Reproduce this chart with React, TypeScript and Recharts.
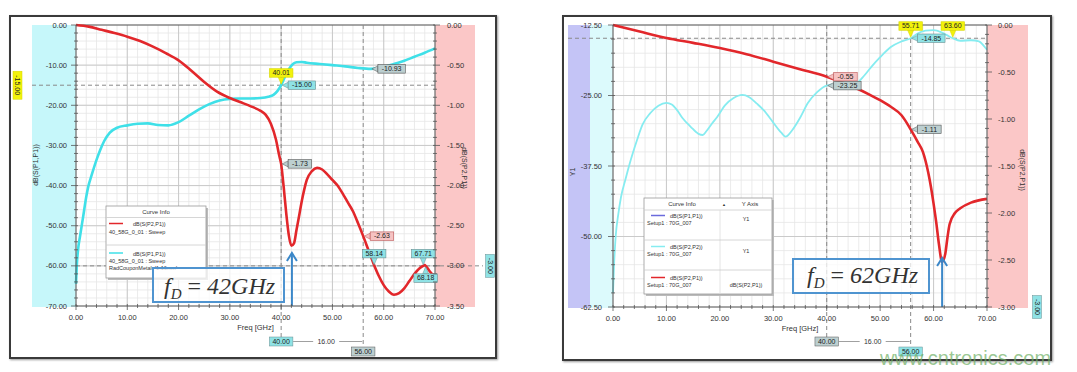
import React from "react";
import {
  LineChart,
  Line,
  XAxis,
  YAxis,
  CartesianGrid,
  ReferenceLine,
  ReferenceDot,
} from "recharts";

const range = (from: number, to: number, step: number) =>
  Array.from({ length: Math.round((to - from) / step) + 1 }, (_, i) =>
    Number((from + i * step).toFixed(3))
  );

// ---------- axes ----------
const freqTicks = range(0, 70, 2);
const freqMajor = [10, 20, 30, 40, 50, 60];

const leftDbTicks = range(-70, 0, 2);
const leftDbMajor = [-10, -20, -30, -40, -50, -60];
const leftS21Ticks = range(-3.5, 0, 0.1);

const rightY1Ticks = range(-62.5, -12.5, 2.5);
const rightY1Major = [-25, -37.5, -50];
const rightS21Ticks = range(-3, 0, 0.1);

// ---------- left plot (fD = 42 GHz) ----------
// dB(S(P1,P1)) on left axis
const leftS11: [number, number][] = [
  [0, -64.5], [0.15, -60], [0.4, -56], [0.8, -52.5], [1.4, -47.7], [2, -42.8],
  [2.4, -40.2], [3, -37.6], [4, -33.6], [4.7, -31.2], [5.5, -28.9], [6.6, -26.8],
  [8, -25.6], [10, -25], [12, -24.6], [14, -24.5], [16, -24.9], [18, -25],
  [20, -24.2], [22, -22.6], [24, -21], [26, -19.7], [28, -18.8], [30, -18.4],
  [32, -18.3], [34, -18.3], [36, -18.2], [37.5, -17.9], [38.5, -17.4], [39.3, -16.4],
  [40, -15], [40.7, -13], [41.5, -11], [42.3, -9.7], [43, -9.3], [44, -9.2],
  [45, -9.4], [47.5, -9.7], [50, -10], [52.5, -10.3], [55, -10.7], [57.5, -10.93],
  [60, -10.5], [62, -9.7], [64, -8.9], [66, -7.9], [68, -6.9], [70, -5.8],
];
// dB(S(P2,P1)) on right axis
const leftS21: [number, number][] = [
  [0, 0], [2.5, -0.02], [5, -0.06], [7.5, -0.1], [10, -0.145], [12.5, -0.2],
  [15, -0.27], [17.5, -0.35], [20, -0.44], [22.5, -0.57], [25, -0.71], [27.5, -0.83],
  [30, -0.91], [32, -0.96], [34, -1.01], [36, -1.07], [37, -1.12], [38, -1.23],
  [39, -1.43], [39.6, -1.62], [40, -1.73], [40.5, -2.02], [41, -2.35], [41.5, -2.62],
  [42, -2.75], [42.5, -2.72], [43, -2.55], [43.5, -2.38], [44, -2.2], [44.5, -2.05],
  [45, -1.93], [46, -1.82], [47, -1.78], [48, -1.8], [49, -1.86], [50, -1.93],
  [51, -2.0], [52, -2.1], [53, -2.21], [54, -2.32], [55, -2.47], [56, -2.63],
  [57, -2.8], [58, -2.97], [59, -3.12], [60, -3.24], [61, -3.32], [62, -3.36],
  [63, -3.34], [64, -3.28], [65, -3.19], [66, -3.1], [67, -3.03], [67.71, -3.0],
  [68, -2.99], [68.18, -3.0], [69, -3.07], [70, -3.14],
];
const leftMarkers = [
  { f: 40.01, v: -15, axis: "L", label: "40.01" },
  { f: 40.01, v: -15, axis: "L", label: "-15.00" },
  { f: 57.5, v: -10.93, axis: "L", label: "-10.93" },
  { f: 40, v: -1.73, axis: "R", label: "-1.73" },
  { f: 56, v: -2.63, axis: "R", label: "-2.63" },
  { f: 58.14, v: -3, axis: "R", label: "58.14" },
  { f: 67.71, v: -3, axis: "R", label: "67.71" },
  { f: 68.18, v: -3, axis: "R", label: "68.18" },
];
const leftMarkerLook = [
  ["above", "yellow"], ["right", "cyan"], ["right", "grey"], ["right", "grey"],
  ["right", "pink"], ["above", "cyan"], ["above", "cyan"], ["below", "cyan"],
];

// ---------- right plot (fD = 62 GHz) ----------
// dB(S(P2,P2)) on Y1
const rightS22: [number, number][] = [
  [0, -60], [0.2, -55], [0.5, -50], [1, -46], [1.5, -43], [2.3, -40], [3, -37.5],
  [4.5, -32.9], [5.5, -30.2], [7, -28.1], [8.5, -26.8], [10, -26.3], [11, -26.6],
  [12, -27.6], [13, -29], [14.5, -30.5], [16, -31.8], [16.8, -32], [17.5, -31.3],
  [18.5, -30], [19.5, -28.8], [21, -26.7], [22.5, -25.5], [24.2, -24.9], [25.5, -25.3],
  [27, -26.5], [28.2, -27.6], [30, -29.8], [31.5, -31.6], [32.3, -32.3], [33.5, -31.2],
  [35.1, -28.8], [36.5, -26.3], [38.2, -24.4], [40, -23.25], [42, -23.0], [44, -23.0],
  [45.7, -22.7], [47, -21.5], [48.2, -20.1], [50, -18.2], [52, -16.4], [54, -15.4],
  [55.71, -14.85], [57, -14.0], [58.5, -13.5], [60, -13.4], [61.5, -13.8], [62.5, -14.3],
  [63.6, -14.85], [65, -15.3], [67, -15.2], [68.5, -15.4], [69.4, -16.2], [70, -16.9],
];
// dB(S(P2,P1)) on right axis
const rightS21: [number, number][] = [
  [0, 0], [5, -0.07], [10, -0.138], [15, -0.19], [20, -0.245], [25, -0.31],
  [30, -0.39], [35, -0.47], [40, -0.55], [45, -0.66], [48, -0.74], [50, -0.8],
  [52, -0.87], [54, -0.96], [55.71, -1.11], [57, -1.24], [58, -1.35], [59, -1.57],
  [59.5, -1.72], [60, -1.9], [60.5, -2.1], [61, -2.33], [61.6, -2.52], [62.2, -2.43],
  [62.6, -2.26], [63, -2.12], [64, -2.0], [65, -1.95], [67, -1.89], [70, -1.85],
];
const rightMarkers = [
  { f: 55.71, v: -14.85, axis: "L", label: "55.71" },
  { f: 63.6, v: -14.85, axis: "L", label: "63.60" },
  { f: 55.71, v: -14.85, axis: "L", label: "-14.85" },
  { f: 40, v: -0.55, axis: "R", label: "-0.55" },
  { f: 40, v: -23.25, axis: "L", label: "-23.25" },
  { f: 55.71, v: -1.11, axis: "R", label: "-1.11" },
];
const rightMarkerLook = [
  ["above", "yellow"], ["above", "yellow"], ["right", "cyan"],
  ["right", "pink"], ["right", "grey"], ["right", "grey"],
];

const pts = (arr: [number, number][]) => arr.map(([f, v]) => ({ f, v }));

const FONT = "'Liberation Sans', Arial, sans-serif";
const RED = "#e2272b";
const CYAN = "#3fe0e8";
const CYAN2 = "#86ecf0";
const GRID_MINOR = "#e6e6e6";
const GRID_MAJOR = "#c6c6c6";
const AXIS = "#555";
const DASH = { stroke: "#8a8a8a", strokeWidth: 1, strokeDasharray: "4 3" };

const LOOK: Record<string, { fill: string; stroke: string }> = {
  yellow: { fill: "#f2f20c", stroke: "#d6d600" },
  cyan: { fill: "#8fe2e5", stroke: "#6a9092" },
  grey: { fill: "#bccfd0", stroke: "#555" },
  pink: { fill: "#f6c2c2", stroke: "#b55" },
};

const near = (v: number, step: number) =>
  Math.abs(v / step - Math.round(v / step)) < 1e-6;

const BottomTick = (p: any) => {
  const { x, y, payload } = p;
  const major = near(payload.value, 10);
  return (
    <g>
      <line x1={x} x2={x} y1={y - 2} y2={y + (major ? 4 : 2)} stroke={AXIS} strokeWidth={0.8} />
      {major && (
        <text x={x} y={y + 14} textAnchor="middle" fontSize={7.5} fill="#333" fontFamily={FONT}>
          {payload.value.toFixed(2)}
        </text>
      )}
    </g>
  );
};

const LeftTick = (p: any) => {
  const { x, y, payload, step, gap } = p;
  const major = near(payload.value, step);
  return (
    <g>
      <line x1={major ? x - 5 : x - 2} x2={x + 2} y1={y} y2={y} stroke={AXIS} strokeWidth={0.8} />
      {major && (
        <text x={x - gap} y={y + 2.5} textAnchor="end" fontSize={7.5} fill="#333" fontFamily={FONT}>
          {payload.value.toFixed(2)}
        </text>
      )}
    </g>
  );
};

const RightTick = (p: any) => {
  const { x, y, payload, step, gap } = p;
  const major = near(payload.value, step);
  return (
    <g>
      <line x1={x - 2} x2={major ? x + 5 : x + 2} y1={y} y2={y} stroke={AXIS} strokeWidth={0.8} />
      {major && (
        <text x={x + gap} y={y + 2.5} textAnchor="start" fontSize={7.5} fill="#333" fontFamily={FONT}>
          {payload.value.toFixed(2)}
        </text>
      )}
    </g>
  );
};

function Tag({ cx, cy, text, place, look }: any) {
  const c = LOOK[look];
  const w = text.length * 3.9 + 4;
  const h = 8.5;
  let bx: number, by: number, tri: string;
  if (place === "above") {
    bx = cx - w / 2;
    by = cy - 8 - h;
    tri = `${cx - 3},${by + h} ${cx + 3},${by + h} ${cx},${cy - 1}`;
  } else if (place === "below") {
    bx = cx - w / 2;
    by = cy + 8;
    tri = `${cx - 3},${by} ${cx + 3},${by} ${cx},${cy + 1}`;
  } else {
    bx = cx + 7;
    by = cy - h / 2;
    tri = `${bx},${cy - 3} ${bx},${cy + 3} ${cx + 1},${cy}`;
  }
  return (
    <g>
      <polygon points={tri} fill={c.fill} stroke={c.stroke} strokeWidth={0.5} />
      <rect x={bx} y={by} width={w} height={h} fill={c.fill} stroke={c.stroke} strokeWidth={0.6} />
      <text x={bx + w / 2} y={by + h - 2} textAnchor="middle" fontSize={7} fill="#222" fontFamily={FONT}>
        {text}
      </text>
    </g>
  );
}

function BoxText({ x, y, text, look }: any) {
  const c = LOOK[look];
  const w = text.length * 3.9 + 4;
  return (
    <g>
      <rect x={x - w / 2} y={y} width={w} height={9} fill={c.fill} stroke={c.stroke} strokeWidth={0.5} />
      <text x={x} y={y + 7} textAnchor="middle" fontSize={7} fill="#222" fontFamily={FONT}>
        {text}
      </text>
    </g>
  );
}

function VTag({ x, y, text, look, h }: any) {
  const c = LOOK[look];
  return (
    <g>
      <rect x={x - 4.5} y={y - h / 2} width={9} height={h} fill={c.fill} stroke={c.stroke} strokeWidth={0.5} />
      <text
        x={x}
        y={y}
        transform={`rotate(90, ${x}, ${y})`}
        textAnchor="middle"
        dominantBaseline="central"
        fontSize={7}
        fill="#222"
        fontFamily={FONT}
      >
        {text}
      </text>
    </g>
  );
}

// vertical dashed marker line that runs below the plot
const vLineExt = (extra: number) => (p: any) => {
  const top = Math.min(p.y1, p.y2);
  const bot = Math.max(p.y1, p.y2);
  return <line x1={p.x1} x2={p.x1} y1={top} y2={bot + extra} {...DASH} />;
};

// delta readout below the axis: "a ---- d ---- b"
const deltaShape = (a: string, b: string, d: string, lookA: string, lookB: string, gapA: number, gapB: number) => (p: any) => {
  const xa = Math.min(p.x1, p.x2);
  const xb = Math.max(p.x1, p.x2);
  const y = p.y1;
  const cy = y + gapA + 4.5;
  const mid = (xa + xb) / 2 + 4;
  return (
    <g>
      <line x1={xa + 12} x2={mid - 13} y1={cy} y2={cy} stroke="#888" strokeWidth={0.8} />
      <text x={mid} y={cy + 2.5} textAnchor="middle" fontSize={7} fill="#333" fontFamily={FONT}>
        {d}
      </text>
      <line x1={mid + 13} x2={xb - 1} y1={cy} y2={cy} stroke="#888" strokeWidth={0.8} />
      <BoxText x={xa} y={y + gapA} text={a} look={lookA} />
      <BoxText x={xb} y={y + gapB} text={b} look={lookB} />
    </g>
  );
};

const arrowShape = (p: any) => {
  const top = Math.min(p.y1, p.y2);
  const bot = Math.max(p.y1, p.y2);
  return (
    <g stroke="#3b87c8" strokeWidth={2} fill="none">
      <line x1={p.x1} x2={p.x1} y1={top + 1} y2={bot} />
      <polyline points={`${p.x1 - 5},${top + 8} ${p.x1},${top} ${p.x1 + 5},${top + 8}`} />
    </g>
  );
};

function LeftPlot() {
  return (
    <LineChart width={540} height={372} margin={{ top: 25, right: 0, bottom: 0, left: 0 }}>
      <CartesianGrid yAxisId="L" stroke={GRID_MINOR} strokeWidth={0.8} />
      <XAxis
        dataKey="f"
        type="number"
        domain={[0, 70]}
        ticks={freqTicks}
        interval={0}
        height={66}
        tickSize={0}
        tickMargin={0}
        stroke={AXIS}
        tick={<BottomTick />}
        label={{ value: "Freq [GHz]", position: "insideTop", offset: 19, fontSize: 7.5, fill: "#333", fontFamily: FONT }}
      />
      <YAxis
        yAxisId="L"
        type="number"
        domain={[-70, 0]}
        ticks={leftDbTicks}
        interval={0}
        width={76}
        tickSize={0}
        tickMargin={0}
        stroke={AXIS}
        tick={<LeftTick step={10} gap={9} />}
      />
      <YAxis
        yAxisId="R"
        orientation="right"
        type="number"
        domain={[-3.5, 0]}
        ticks={leftS21Ticks}
        interval={0}
        width={105}
        tickSize={0}
        tickMargin={0}
        stroke={AXIS}
        tick={<RightTick step={0.5} gap={12} />}
      />
      {freqMajor.map((f) => (
        <ReferenceLine key={`gx${f}`} yAxisId="L" x={f} stroke={GRID_MAJOR} strokeWidth={0.9} />
      ))}
      {leftDbMajor.map((v) => (
        <ReferenceLine key={`gy${v}`} yAxisId="L" y={v} stroke={GRID_MAJOR} strokeWidth={0.9} />
      ))}
      <ReferenceLine yAxisId="L" y={0} stroke={AXIS} strokeWidth={1} />
      <ReferenceLine
        yAxisId="L"
        y={-15}
        shape={(p: any) => {
          const xl = Math.min(p.x1, p.x2);
          const xr = Math.max(p.x1, p.x2);
          return (
            <g>
              <line x1={xl - 44} x2={xr} y1={p.y1} y2={p.y1} {...DASH} />
              <VTag x={xl - 58.5} y={p.y1} h={28} text="-15.00" look="yellow" />
            </g>
          );
        }}
      />
      <ReferenceLine
        yAxisId="L"
        y={-60}
        shape={(p: any) => {
          const xl = Math.min(p.x1, p.x2);
          const xr = Math.max(p.x1, p.x2);
          return (
            <g>
              <line x1={xl} x2={xr + 48} y1={p.y1} y2={p.y1} {...DASH} />
              <VTag x={xr + 55} y={p.y1} h={23} text="-3.00" look="cyan" />
            </g>
          );
        }}
      />
      <ReferenceLine yAxisId="L" x={40} shape={vLineExt(31)} />
      <ReferenceLine yAxisId="L" x={56} shape={vLineExt(41)} />
      <ReferenceLine
        yAxisId="L"
        segment={[{ x: 40, y: -70 }, { x: 56, y: -70 }]}
        shape={deltaShape("40.00", "56.00", "16.00", "cyan", "grey", 31, 41)}
      />
      <Line yAxisId="L" data={pts(leftS11)} dataKey="v" type="monotone" stroke={CYAN} strokeWidth={2.6} dot={false} isAnimationActive={false} />
      <Line yAxisId="R" data={pts(leftS21)} dataKey="v" type="monotone" stroke={RED} strokeWidth={2.6} dot={false} isAnimationActive={false} />
      <ReferenceLine yAxisId="L" segment={[{ x: 42.1, y: -70 }, { x: 42.1, y: -56.8 }]} shape={arrowShape} />
      {leftMarkers.map((m, i) => (
        <ReferenceDot
          key={`lm${i}`}
          yAxisId={m.axis}
          x={m.f}
          y={m.v}
          shape={(p: any) => (
            <Tag cx={p.cx} cy={p.cy} text={m.label} place={leftMarkerLook[i][0]} look={leftMarkerLook[i][1]} />
          )}
        />
      ))}
    </LineChart>
  );
}

function RightPlot() {
  return (
    <LineChart width={540} height={372} margin={{ top: 25, right: 0, bottom: 0, left: 0 }}>
      <CartesianGrid yAxisId="L" stroke={GRID_MINOR} strokeWidth={0.8} />
      <XAxis
        dataKey="f"
        type="number"
        domain={[0, 70]}
        ticks={freqTicks}
        interval={0}
        height={65}
        tickSize={0}
        tickMargin={0}
        stroke={AXIS}
        tick={<BottomTick />}
        label={{ value: "Freq [GHz]", position: "insideTop", offset: 19, fontSize: 7.5, fill: "#333", fontFamily: FONT }}
      />
      <YAxis
        yAxisId="L"
        type="number"
        domain={[-62.5, -12.5]}
        ticks={rightY1Ticks}
        interval={0}
        width={76}
        tickSize={0}
        tickMargin={0}
        stroke={AXIS}
        tick={<LeftTick step={12.5} gap={11} />}
      />
      <YAxis
        yAxisId="R"
        orientation="right"
        type="number"
        domain={[-3, 0]}
        ticks={rightS21Ticks}
        interval={0}
        width={90}
        tickSize={0}
        tickMargin={0}
        stroke={AXIS}
        tick={<RightTick step={0.5} gap={11} />}
      />
      {freqMajor.map((f) => (
        <ReferenceLine key={`gx${f}`} yAxisId="L" x={f} stroke={GRID_MAJOR} strokeWidth={0.9} />
      ))}
      {rightY1Major.map((v) => (
        <ReferenceLine key={`gy${v}`} yAxisId="L" y={v} stroke={GRID_MAJOR} strokeWidth={0.9} />
      ))}
      <ReferenceLine yAxisId="L" y={-12.5} stroke={AXIS} strokeWidth={1} />
      <ReferenceLine
        yAxisId="L"
        y={-14.85}
        shape={(p: any) => {
          const xl = Math.min(p.x1, p.x2);
          const xr = Math.max(p.x1, p.x2);
          return <line x1={xl - 45} x2={xr} y1={p.y1} y2={p.y1} {...DASH} />;
        }}
      />
      <ReferenceLine
        yAxisId="R"
        y={-3}
        shape={(p: any) => {
          const xr = Math.max(p.x1, p.x2);
          return <VTag x={xr + 50} y={p.y1} h={23} text="-3.00" look="cyan" />;
        }}
      />
      <ReferenceLine yAxisId="L" x={40} shape={vLineExt(30)} />
      <ReferenceLine yAxisId="L" x={55.71} shape={vLineExt(40)} />
      <ReferenceLine
        yAxisId="L"
        segment={[{ x: 40, y: -62.5 }, { x: 55.71, y: -62.5 }]}
        shape={deltaShape("40.00", "56.00", "16.00", "grey", "cyan", 30, 40)}
      />
      <Line yAxisId="L" data={pts(rightS22)} dataKey="v" type="monotone" stroke={CYAN2} strokeWidth={1.8} dot={false} isAnimationActive={false} />
      <Line yAxisId="R" data={pts(rightS21)} dataKey="v" type="monotone" stroke={RED} strokeWidth={2.6} dot={false} isAnimationActive={false} />
      <ReferenceLine yAxisId="L" segment={[{ x: 61.6, y: -62.5 }, { x: 61.6, y: -53.8 }]} shape={arrowShape} />
      {rightMarkers.map((m, i) => (
        <ReferenceDot
          key={`rm${i}`}
          yAxisId={m.axis}
          x={m.f}
          y={m.v}
          shape={(p: any) => (
            <Tag cx={p.cx} cy={p.cy} text={m.label} place={rightMarkerLook[i][0]} look={rightMarkerLook[i][1]} />
          )}
        />
      ))}
    </LineChart>
  );
}

const txt = { fontFamily: FONT, fill: "#333" };

function Overlay() {
  return (
    <svg width={1077} height={372} style={{ position: "absolute", left: 0, top: 0, pointerEvents: "none" }}>
      {/* axis titles */}
      <text transform="translate(38,165) rotate(-90)" textAnchor="middle" fontSize={7} {...txt}>dB(S(P1,P1))</text>
      <text transform="translate(462,168) rotate(90)" textAnchor="middle" fontSize={7} {...txt}>dB(S(P2,P1))</text>
      <text transform="translate(575,172) rotate(-90)" textAnchor="middle" fontSize={7} {...txt}>Y1</text>
      <text transform="translate(1020,170) rotate(90)" textAnchor="middle" fontSize={7} {...txt}>dB(S(P2,P1))</text>

      {/* left legend */}
      <rect x={108} y={208} width={100} height={72} fill="#bbb" />
      <rect x={106} y={206} width={100} height={72} fill="#fff" stroke="#999" strokeWidth={0.8} />
      <text x={156} y={214} textAnchor="middle" fontSize={6} {...txt}>Curve Info</text>
      <line x1={106} x2={206} y1={217.5} y2={217.5} stroke="#ccc" strokeWidth={0.8} />
      <line x1={109} x2={123} y1={223.5} y2={223.5} stroke={RED} strokeWidth={1.5} />
      <text x={133} y={226} fontSize={5.5} {...txt}>dB(S(P2,P1))</text>
      <text x={109} y={234} fontSize={5.5} {...txt}>40_58G_0_01 : Sweep</text>
      <line x1={106} x2={206} y1={245} y2={245} stroke="#ccc" strokeWidth={0.8} />
      <line x1={109} x2={123} y1={253} y2={253} stroke={CYAN} strokeWidth={1.5} />
      <text x={133} y={255.5} fontSize={5.5} {...txt}>dB(S(P1,P1))</text>
      <text x={109} y={263} fontSize={5.5} {...txt}>40_58G_0_01 : Sweep</text>
      <text x={109} y={270} fontSize={5.5} {...txt}>RadCouponMetal='1.16mm'</text>

      {/* right legend */}
      <rect x={646} y={200} width={128} height={96} fill="#bbb" />
      <rect x={644} y={198} width={128} height={96} fill="#fff" stroke="#999" strokeWidth={0.8} />
      <text x={682} y={206} textAnchor="middle" fontSize={6} {...txt}>Curve Info</text>
      <text x={724} y={206} textAnchor="middle" fontSize={4} {...txt}>▲</text>
      <text x={750} y={206} textAnchor="middle" fontSize={6} {...txt}>Y Axis</text>
      <line x1={644} x2={772} y1={210} y2={210} stroke="#ccc" strokeWidth={0.8} />
      <line x1={720} x2={720} y1={210} y2={294} stroke="#ddd" strokeWidth={0.8} />
      <line x1={651} x2={665} y1={215.5} y2={215.5} stroke="#6b6bdc" strokeWidth={1.5} />
      <text x={670} y={217.5} fontSize={5.5} {...txt}>dB(S(P1,P1))</text>
      <text x={647} y={224.5} fontSize={5.5} {...txt}>Setup1 : 70G_007</text>
      <text x={746} y={221} textAnchor="middle" fontSize={5.5} {...txt}>Y1</text>
      <line x1={644} x2={772} y1={240} y2={240} stroke="#ccc" strokeWidth={0.8} />
      <line x1={651} x2={665} y1={246.5} y2={246.5} stroke={CYAN2} strokeWidth={1.5} />
      <text x={670} y={248.5} fontSize={5.5} {...txt}>dB(S(P2,P2))</text>
      <text x={647} y={256} fontSize={5.5} {...txt}>Setup1 : 70G_007</text>
      <text x={746} y={253} textAnchor="middle" fontSize={5.5} {...txt}>Y1</text>
      <line x1={644} x2={772} y1={270} y2={270} stroke="#ccc" strokeWidth={0.8} />
      <line x1={651} x2={665} y1={277.5} y2={277.5} stroke={RED} strokeWidth={1.5} />
      <text x={670} y={279.5} fontSize={5.5} {...txt}>dB(S(P2,P1))</text>
      <text x={647} y={287} fontSize={5.5} {...txt}>Setup1 : 70G_007</text>
      <text x={746} y={287} textAnchor="middle" fontSize={5.5} {...txt}>dB(S(P2,P1))</text>

      {/* fD callouts */}
      <rect x={153} y={268} width={131} height={34} fill="rgba(255,255,255,0.75)" stroke="#4f94d0" strokeWidth={2} />
      <text x={164} y={294} fontSize={24} fontFamily="'Liberation Serif', 'Times New Roman', serif" fontStyle="italic" fill="#333">
        f<tspan fontSize={15} dy={5}>D</tspan>
        <tspan dy={-5} fontStyle="normal"> = </tspan>42GHz
      </text>
      <rect x={793} y={259} width={136} height={34} fill="rgba(255,255,255,0.75)" stroke="#4f94d0" strokeWidth={2} />
      <text x={807} y={283} fontSize={24} fontFamily="'Liberation Serif', 'Times New Roman', serif" fontStyle="italic" fill="#333">
        f<tspan fontSize={15} dy={5}>D</tspan>
        <tspan dy={-5} fontStyle="normal"> = </tspan>62GHz
      </text>

      <text x={880} y={365} fontSize={20} fontFamily={FONT} fill="rgba(110,175,100,0.7)">www.cntronics.com</text>
    </svg>
  );
}

export default function App() {
  return (
    <div style={{ position: "absolute", left: 0, top: 0, width: 1077, height: 372, background: "#fff", overflow: "hidden" }}>
      {/* axis bands */}
      <div style={{ position: "absolute", left: 32, top: 25, width: 44, height: 282, background: "#c6f7fa" }} />
      <div style={{ position: "absolute", left: 435, top: 25, width: 40, height: 282, background: "#fbc7c7" }} />
      <div style={{ position: "absolute", left: 568, top: 25, width: 22, height: 283, background: "#c4c4f6" }} />
      <div style={{ position: "absolute", left: 590, top: 25, width: 23, height: 283, background: "#dcfafc" }} />
      <div style={{ position: "absolute", left: 987, top: 25, width: 41, height: 283, background: "#fbc7c7" }} />
      {/* frames */}
      <div style={{ position: "absolute", left: 9, top: 15, width: 484, height: 340, border: "2px solid #3a3a3a", boxShadow: "1px 1px 2px #999" }} />
      <div style={{ position: "absolute", left: 562, top: 15, width: 486, height: 342, border: "2px solid #3a3a3a", boxShadow: "1px 1px 2px #999" }} />
      <div style={{ position: "absolute", left: 0, top: 0 }}>
        <LeftPlot />
      </div>
      <div style={{ position: "absolute", left: 537, top: 0 }}>
        <RightPlot />
      </div>
      <Overlay />
    </div>
  );
}
